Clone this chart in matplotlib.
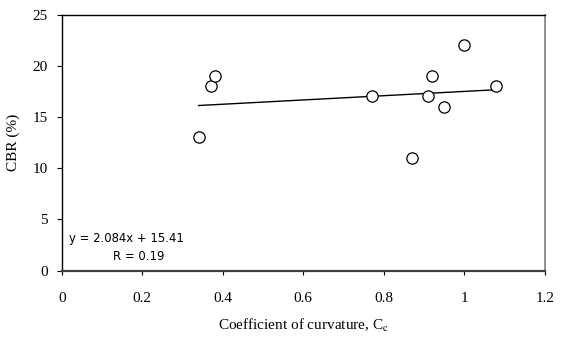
import numpy as np
import matplotlib
matplotlib.use("Agg")
import matplotlib.pyplot as plt

# CBR vs coefficient of curvature
cc = [0.34, 0.37, 0.38, 0.77, 0.87, 0.91, 0.92, 0.95, 1.00, 1.08]
cbr = [13, 18, 19, 17, 11, 17, 19, 16, 22, 18]
slope, intercept = 2.084, 15.41
x_ticks = [0, 0.2, 0.4, 0.6, 0.8, 1, 1.2]
y_ticks = [0, 5, 10, 15, 20, 25]

plt.rcParams["font.family"] = ["Liberation Serif", "DejaVu Serif"]
plt.rcParams["mathtext.fontset"] = "stix"

fig = plt.figure(figsize=(5.62, 3.42), dpi=100)
ax = fig.add_axes([0.1098, 0.2085, 0.8594, 0.7491])

# trend line over the data range
xl = np.array([min(cc), max(cc)])
ax.plot(xl, slope * xl + intercept, color="black", lw=1.0, zorder=2)
ax.scatter(cc, cbr, s=66, facecolor="white", edgecolor="black", linewidth=0.9, zorder=3)

ax.set_xlim(0, 1.2)
ax.set_ylim(0, 25)
ax.set_xticks(x_ticks)
ax.set_xticklabels(["0", "0.2", "0.4", "0.6", "0.8", "1", "1.2"])
ax.set_yticks(y_ticks)

for s in ["left", "top"]:
    ax.spines[s].set_color("black")
    ax.spines[s].set_linewidth(1.0)
ax.spines["bottom"].set_color("#404040")
ax.spines["bottom"].set_linewidth(1.6)
ax.spines["right"].set_color("#808080")
ax.spines["right"].set_linewidth(1.2)

ax.tick_params(axis="y", direction="out", length=3.6, width=0.8, pad=6.5, labelsize=11)
ax.tick_params(axis="x", direction="out", length=3, width=0.8, pad=12, labelsize=11)

ax.set_xlabel(r"Coefficient of curvature, C$_\mathrm{c}$", fontsize=11, labelpad=9)
ax.set_ylabel("CBR (%)", fontsize=11, labelpad=9)

ax.text(0.019, 3.19, f"y = {slope}x + {intercept}", fontsize=8.4, family="DejaVu Sans",
        ha="left", va="center")
ax.text(0.192, 1.43, "R = 0.19", fontsize=8.4, family="DejaVu Sans", ha="center", va="center")

fig.savefig("out.png", dpi=100)
